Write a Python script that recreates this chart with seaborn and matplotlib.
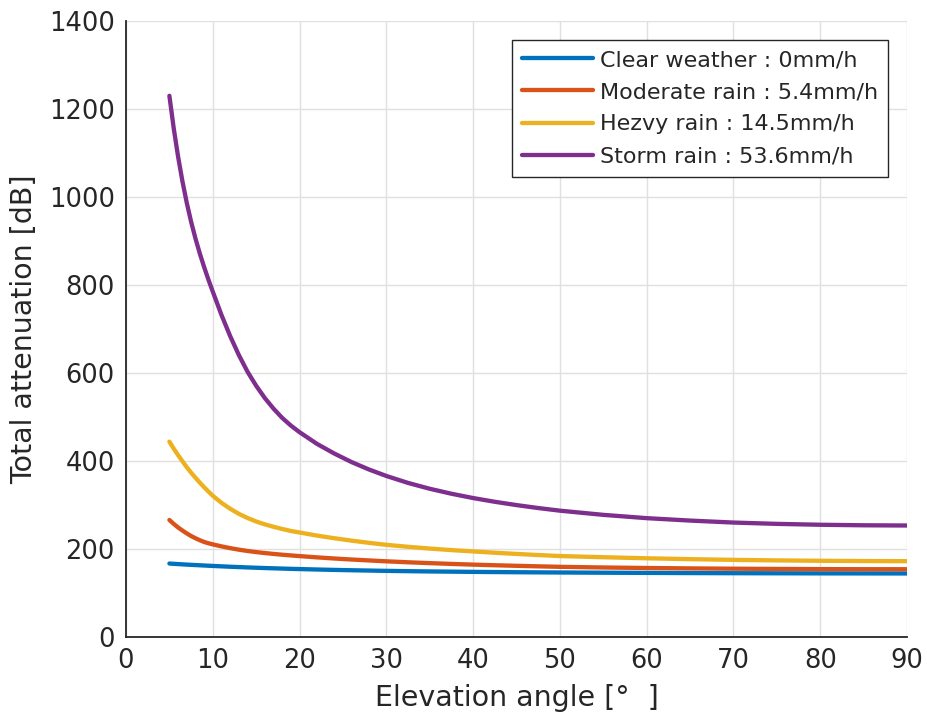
import matplotlib
matplotlib.use("Agg")
import matplotlib.pyplot as plt
import seaborn as sns
import pandas as pd

# ---- data ----
angles = [5, 5.5, 6, 6.5, 7, 7.5, 8, 8.5, 9, 9.5, 10,
          11, 12, 13, 14, 15, 16, 17, 18, 19, 20,
          22, 24, 26, 28, 30,
          32.5, 35, 37.5, 40, 42.5, 45, 47.5, 50,
          55, 60, 65, 70, 75, 80, 85, 90]
clear = [167, 166.3, 165.7, 165.1, 164.5, 164, 163.5, 163, 162.5, 162, 161.5,
         160.6, 159.7, 158.9, 158.1, 157.4, 156.7, 156.1, 155.5, 154.9, 154.4,
         153.4, 152.5, 151.7, 151, 150.3,
         149.6, 149, 148.5, 148, 147.6, 147.2, 146.9, 146.6,
         146.1, 145.7, 145.3, 145, 144.8, 144.6, 144.5, 144.4]
moderate = [266, 257, 249, 242, 235.5, 229.5, 224.5, 220, 216, 213, 210.5,
            206, 202, 198.5, 195.5, 193, 190.8, 188.8, 187, 185.4, 183.9,
            181, 178.4, 176.1, 174, 172,
            169.8, 167.9, 166.1, 164.5, 163.1, 161.8, 160.6, 159.5,
            158, 156.8, 155.9, 155.2, 154.7, 154.3, 154.1, 154]
heavy = [444, 428, 413.5, 399.5, 386, 373.5, 362, 351, 340.5, 330.5, 321,
         305, 291.5, 280, 270.5, 262.5, 256, 250.5, 245.5, 241, 237.5,
         230.5, 224.5, 219, 214, 209.5,
         205, 201, 197.5, 194.5, 191.5, 188.8, 186.3, 184,
         181.3, 178.9, 176.9, 175.3, 174.1, 173.2, 172.6, 172.3]
storm = [1230, 1156, 1092, 1036, 987, 944, 906, 872, 841, 812, 785,
         732, 684, 641, 603, 571, 543, 519, 498, 480.5, 465.5,
         439, 417, 397.5, 380.7, 366,
         350.2, 336.9, 325.6, 315.8, 307.3, 299.8, 293.1, 287.1,
         277.6, 270.1, 264.6, 260.1, 257.1, 255.1, 253.9, 253.4]
series_names = ["Clear weather : 0mm/h", "Moderate rain : 5.4mm/h",
                "Hezvy rain : 14.5mm/h", "Storm rain : 53.6mm/h"]
colors = ["#0072BD", "#D95319", "#EDB120", "#7E2F8E"]
xticks = [0, 10, 20, 30, 40, 50, 60, 70, 80, 90]
yticks = [0, 200, 400, 600, 800, 1000, 1200, 1400]
xlabel = "Elevation angle [°  ]"
ylabel = "Total attenuation [dB]"

frames = []
for name, vals in zip(series_names, [clear, moderate, heavy, storm]):
    frames.append(pd.DataFrame({"angle": angles, "att": vals, "case": name}))
df = pd.concat(frames, ignore_index=True)

sns.set_theme(style="whitegrid")
plt.rcParams["font.family"] = ["DejaVu Sans", "Noto Sans CJK JP"]

fig = plt.figure(figsize=(9.28, 7.25), dpi=100)
ax = fig.add_axes([126 / 928, 1 - 637 / 725, (907 - 126) / 928, (637 - 21) / 725])

sns.lineplot(data=df, x="angle", y="att", hue="case", hue_order=series_names,
             palette=colors, linewidth=3.1, ax=ax, legend=True)

ax.set_xlim(0, 90)
ax.set_ylim(0, 1400)
ax.set_xticks(xticks)
ax.set_yticks(yticks)
ax.set_xlabel(xlabel, fontsize=20.5, color="#262626", labelpad=7)
ax.set_ylabel(ylabel, fontsize=20.5, color="#262626", labelpad=8)
ax.tick_params(axis="both", direction="in", length=7, width=1.2, labelsize=18.5,
               colors="#262626", pad=8)
ax.grid(True, color="#e0e0e0", linewidth=1.0)
ax.set_facecolor("white")
for side in ["top", "right"]:
    ax.spines[side].set_visible(False)
for side in ["left", "bottom"]:
    ax.spines[side].set_color("#262626")
    ax.spines[side].set_linewidth(1.3)

leg = ax.legend(loc="upper right", bbox_to_anchor=(888 / 928, 1 - 40 / 725),
                bbox_transform=fig.transFigure, borderaxespad=0, fontsize=16,
                frameon=True, fancybox=False, handlelength=3.2, handletextpad=0.3,
                labelspacing=0.55, borderpad=0.45, title=None)
leg.get_frame().set_edgecolor("#262626")
leg.get_frame().set_linewidth(1.0)
leg.get_frame().set_alpha(1)
for line in leg.get_lines():
    line.set_linewidth(3.1)

fig.savefig("out.png", dpi=100, facecolor="white")
